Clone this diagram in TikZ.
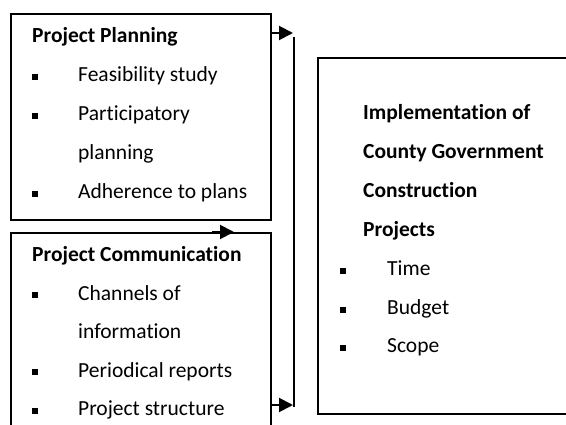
\documentclass[tikz,border=0pt]{standalone}
\usepackage{fontspec}
\setmainfont{Carlito}[Ligatures=NoCommon]
\usetikzlibrary{arrows.meta}

\tikzset{
  frame/.style={draw, line width=2pt, anchor=north west, inner sep=0pt},
  arr/.style={line width=2pt, -{Triangle[length=14pt,width=14pt]}},
  txt/.style={anchor=base west, inner sep=0pt, font=\fontsize{21.5}{26}\selectfont},
  head/.style={txt, font=\fontsize{21.5}{26}\selectfont\bfseries},
  bul/.style={fill, minimum size=6pt, inner sep=0pt},
}

\begin{document}
\begin{tikzpicture}[x=1pt,y=-1pt]
  \useasboundingbox (0,0) rectangle (566,425);
  \clip (0,0) rectangle (566,425);

  % the three boxes
  \node[frame, minimum width=260, minimum height=206] (plan) at (10,13) {};
  \node[frame, minimum width=260, minimum height=220] (comm) at (10,232) {};
  \node[frame, minimum width=270, minimum height=356] (impl) at (317,57) {};

  % planning
  \node[head] (planhd) at (32,43) {Project Planning};
  \node[bul] (pb1) at (34.5,77) {};
  \node[txt] (p1) at (78,82) {Feasibility study};
  \node[bul] (pb2) at (34.5,116) {};
  \node[txt] (p2) at (78,121) {Participatory};
  \node[txt] (p2b) at (78,160) {planning};
  \node[bul] (pb3) at (34.5,194) {};
  \node[txt] (p3) at (78,199) {Adherence to plans};

  % communication
  \node[head] (commhd) at (32,262) {Project Communication};
  \node[bul] (cb1) at (34.5,295.5) {};
  \node[txt] (c1) at (78,300.5) {Channels of};
  \node[txt] (c1b) at (78,339) {information};
  \node[bul] (cb2) at (34.5,372.5) {};
  \node[txt] (c2) at (78,377.5) {Periodical reports};
  \node[bul] (cb3) at (34.5,411) {};
  \node[txt] (c3) at (78,416) {Project structure};

  % implementation
  \node[head] (imp1) at (363,120) {Implementation of};
  \node[head] (imp2) at (363,159) {County Government};
  \node[head] (imp3) at (363,198) {Construction};
  \node[head] (imp4) at (363,237) {Projects};
  \node[bul] (ib1) at (342.5,271) {};
  \node[txt] (i1) at (387,276) {Time};
  \node[bul] (ib2) at (342.5,310) {};
  \node[txt] (i2) at (387,315) {Budget};
  \node[bul] (ib3) at (342.5,348) {};
  \node[txt] (i3) at (387,353) {Scope};

  % connectors
  \coordinate (jtop) at (293,33);
  \coordinate (jbot) at (293,405);
  \coordinate (mid) at (234,232);
  \draw[arr] (plan.east |- jtop) -- (jtop);
  \draw[arr] (plan.east |- jbot) -- (jbot);
  \draw[arr] (212,232) -- (mid);
  \draw[line width=2pt] (294,37) -- (294,407);
\end{tikzpicture}
\end{document}
